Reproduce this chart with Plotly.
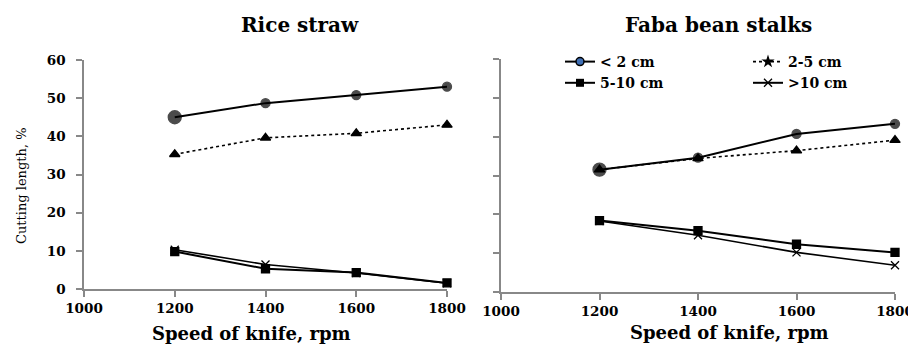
import plotly.graph_objects as go

speed = [1200, 1400, 1600, 1800]
series_names = ["< 2 cm", "2-5 cm", "5-10 cm", ">10 cm"]

rice_lt2 = [45.0, 48.7, 50.8, 53.0]
rice_2_5 = [35.3, 39.6, 40.8, 43.0]
rice_5_10 = [9.8, 5.3, 4.3, 1.6]
rice_gt10 = [10.3, 6.4, 4.2, 1.5]

faba_lt2 = [31.5, 34.6, 40.7, 43.3]
faba_2_5 = [31.5, 34.4, 36.4, 39.1]
faba_5_10 = [18.4, 15.8, 12.3, 10.2]
faba_gt10 = [18.3, 14.6, 10.2, 6.9]

x_ticks = [1000, 1200, 1400, 1600, 1800]
y_ticks = [0, 10, 20, 30, 40, 50, 60]

SERIF = "DejaVu Serif"
OFF = 8  # page body margin
W, H = 916 - OFF, 354 - 2 * OFF


def px(x):
    return (x - OFF) / W


def py(y):
    return 1 - (y - OFF) / H


styles = {
    "< 2 cm": dict(symbol="circle", size=[13, 9, 9, 9], dash="solid", width=2),
    "2-5 cm": dict(symbol="triangle-up", size=9, dash="dot", width=1.6),
    "5-10 cm": dict(symbol="square", size=8, dash="solid", width=2),
    ">10 cm": dict(symbol="x-thin-open", size=8, dash="solid", width=1.6),
}

fig = go.Figure()


def add_panel(vals, xa, ya):
    order = ["2-5 cm", ">10 cm", "5-10 cm", "< 2 cm"]
    for name in order:
        s = styles[name]
        fig.add_trace(go.Scatter(
            x=speed, y=vals[name], mode="lines+markers", name=name,
            xaxis=xa, yaxis=ya, showlegend=False, cliponaxis=False,
            line=dict(color="black", width=s["width"], dash=s["dash"]),
            marker=dict(symbol=s["symbol"], size=s["size"], color="black",
                        line=dict(color="black", width=1.3)),
        ))


add_panel({"< 2 cm": rice_lt2, "2-5 cm": rice_2_5, "5-10 cm": rice_5_10, ">10 cm": rice_gt10}, "x", "y")
add_panel({"< 2 cm": faba_lt2, "2-5 cm": faba_2_5, "5-10 cm": faba_5_10, ">10 cm": faba_gt10}, "x2", "y2")

# legend entries
leg_specs = [
    ("< 2 cm", "legend", dict(symbol="circle", size=8, color="#3f6fb5", line=dict(color="black", width=1.5)), "solid"),
    ("5-10 cm", "legend", dict(symbol="square", size=8, color="black"), "solid"),
    ("2-5 cm", "legend2", dict(symbol="star", size=10, color="black"), "dot"),
    (">10 cm", "legend2", dict(symbol="x-thin-open", size=8, color="black", line=dict(color="black", width=1.3)), "solid"),
]
for name, leg, mk, dash in leg_specs:
    fig.add_trace(go.Scatter(
        x=[None], y=[None], mode="lines+markers", name=name, legend=leg,
        xaxis="x2", yaxis="y2",
        line=dict(color="black", width=2 if dash == "solid" else 1.6, dash=dash),
        marker=mk,
    ))

axis_common = dict(
    showline=True, linecolor="#888888", linewidth=1.5, mirror=False,
    showgrid=False, zeroline=False, ticks="outside", ticklen=6,
    tickcolor="#888888", tickwidth=1.5, automargin=False,
    ticklabeloverflow="allow",
    tickfont=dict(family=SERIF, size=13.5, color="black", weight="bold"),
)

leg_font = dict(family=SERIF, size=14, color="black", weight="bold")

fig.update_layout(
    width=W, height=H, autosize=False,
    margin=dict(l=0, r=0, t=0, b=0, pad=0),
    paper_bgcolor="white", plot_bgcolor="white",
    xaxis=dict(domain=[px(84), px(447)], range=[1000, 1800], tickvals=x_ticks,
               anchor="y", **axis_common),
    yaxis=dict(domain=[py(289), py(60)], range=[0, 60], tickvals=y_ticks,
               anchor="x", ticklabelstandoff=8, **axis_common),
    xaxis2=dict(domain=[px(501), px(895)], range=[1000, 1800], tickvals=x_ticks,
                anchor="y2", **axis_common),
    yaxis2=dict(domain=[py(292), py(59)], range=[0, 60], tickvals=y_ticks,
                anchor="x2", showticklabels=False, **axis_common),
    legend=dict(x=px(560), y=py(46), xanchor="left", yanchor="top",
                bgcolor="rgba(0,0,0,0)", tracegroupgap=0, font=leg_font),
    legend2=dict(x=px(748), y=py(46), xanchor="left", yanchor="top",
                 bgcolor="rgba(0,0,0,0)", tracegroupgap=0, font=leg_font),
    showlegend=True,
)

ann_font_title = dict(family=SERIF, size=20, color="black", weight="bold")
ann_font_x = dict(family=SERIF, size=18, color="black", weight="bold")
fig.add_annotation(text="Rice straw", x=px(300), y=py(25), xref="paper", yref="paper",
                   showarrow=False, font=ann_font_title, xanchor="center", yanchor="middle")
fig.add_annotation(text="Faba bean stalks", x=px(718), y=py(25), xref="paper", yref="paper",
                   showarrow=False, font=ann_font_title, xanchor="center", yanchor="middle")
fig.add_annotation(text="Speed of knife, rpm", x=px(252), y=py(346), xref="paper", yref="paper",
                   showarrow=False, font=ann_font_x, xanchor="center", yanchor="bottom")
fig.add_annotation(text="Speed of knife, rpm", x=px(729), y=py(345), xref="paper", yref="paper",
                   showarrow=False, font=ann_font_x, xanchor="center", yanchor="bottom")
fig.add_annotation(text="Cutting length, %", x=px(21), y=py(186), xref="paper", yref="paper",
                   showarrow=False, textangle=-90, xanchor="center", yanchor="middle",
                   font=dict(family=SERIF, size=13, color="black"))

fig.write_html("out.html")
